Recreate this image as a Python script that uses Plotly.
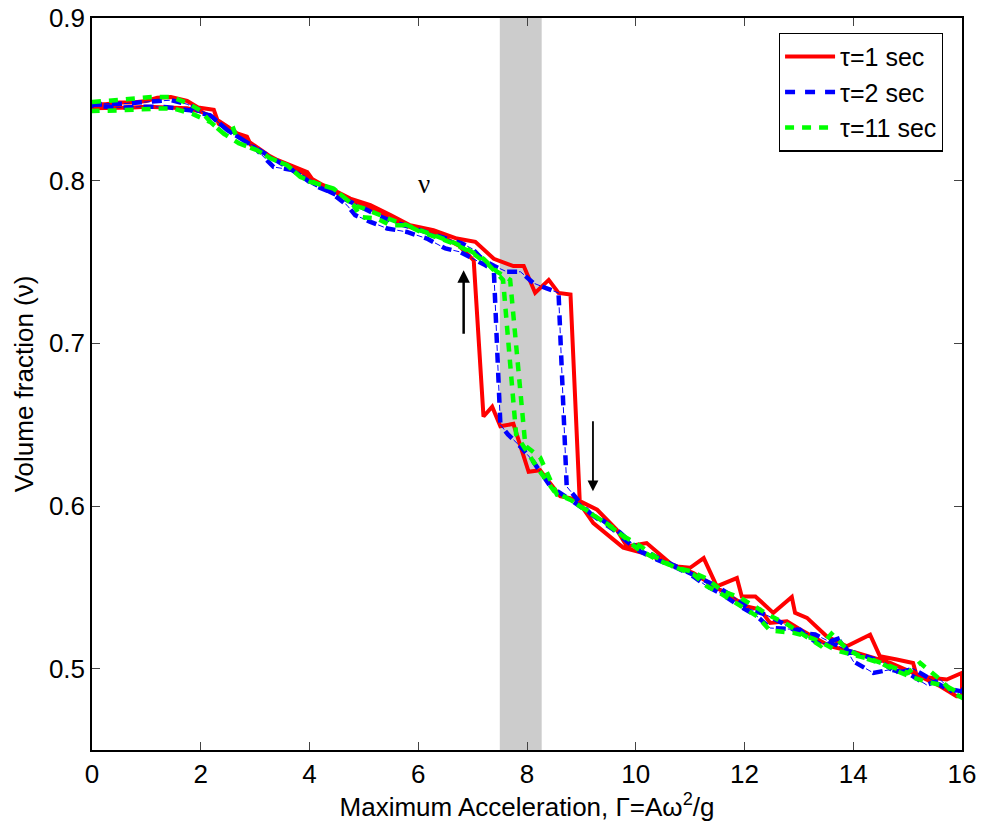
import plotly.graph_objects as go

# ---------------- data ----------------
# tau = 1 sec : increasing-Gamma sweep, then decreasing-Gamma sweep
red_up_x = [0, 0.25, 0.5, 0.75, 1.0, 1.2, 1.45, 1.75, 1.95, 2.24, 2.33, 2.67, 2.85, 2.92, 3.28, 3.65,
            3.96, 4.07, 4.39, 4.75, 5.12, 5.49, 5.85, 6.28, 6.71, 7.05, 7.39, 7.75, 7.94, 8.15, 8.40,
            8.58, 8.80, 8.97, 9.29, 9.65, 9.84, 10.2, 10.45, 10.7, 11.0, 11.25, 11.49, 11.86, 11.95,
            12.2, 12.53, 12.87, 12.93, 13.15, 13.51, 13.88, 14.31, 14.49, 14.8, 15.1, 15.17, 15.45,
            15.72, 16.0]
red_up_y = [0.847, 0.847, 0.848, 0.848, 0.849, 0.851, 0.8514, 0.849, 0.845, 0.8436, 0.835, 0.829,
            0.827, 0.822, 0.8145, 0.8095, 0.8053, 0.800, 0.7952, 0.789, 0.785, 0.7788, 0.7726,
            0.7696, 0.7644, 0.7624, 0.752, 0.7475, 0.7475, 0.731, 0.739, 0.731, 0.730, 0.603,
            0.5977, 0.5854, 0.5751, 0.5772, 0.570, 0.5629, 0.562, 0.568, 0.5506, 0.5557, 0.5444,
            0.5444, 0.5343, 0.544, 0.5343, 0.5312, 0.5199, 0.5138, 0.5209, 0.5076, 0.5056, 0.5035,
            0.4953, 0.4945, 0.4933, 0.4974]
red_dn_x = [16.0, 15.9, 15.6, 15.1, 14.68, 14.07, 13.57, 13.0, 12.78, 12.47, 12.29, 12.04, 11.55,
            11.06, 10.45, 10.14, 9.77, 9.22, 8.92, 8.61, 8.24, 8.03, 7.75, 7.51, 7.36, 7.2, 7.02,
            6.75, 6.5, 6.25, 6.0, 5.75, 5.5, 5.25, 5.0, 4.75, 4.5, 4.25, 4.0, 3.75, 3.5, 3.25, 3.0,
            2.75, 2.5, 2.25, 2.0, 1.75, 1.5, 1.25, 1.0, 0.75, 0.5, 0.25, 0.0]
red_dn_y = [0.483, 0.483, 0.4892, 0.4974, 0.5035, 0.5097, 0.5138, 0.5245, 0.5291, 0.5281, 0.5363,
            0.5383, 0.5486, 0.5588, 0.567, 0.5711, 0.5744, 0.5895, 0.604, 0.606, 0.622, 0.621,
            0.6505, 0.649, 0.661, 0.655, 0.751, 0.760, 0.7645, 0.768, 0.770, 0.7725, 0.7765, 0.781,
            0.7845, 0.788, 0.7925, 0.797, 0.802, 0.8075, 0.811, 0.8155, 0.8215, 0.8275, 0.833,
            0.8385, 0.8425, 0.8445, 0.845, 0.8455, 0.8455, 0.845, 0.8448, 0.8445, 0.8445]

# tau = 2 sec
blue_up_x = [0, 0.22, 0.55, 0.98, 1.2, 1.45, 1.75, 2.0, 2.18, 2.49, 2.79, 3.0, 3.34, 3.71, 4.08, 4.38,
             4.69, 5.0, 5.3, 5.6, 5.9, 6.2, 6.5, 6.8, 7.0, 7.2, 7.4, 7.63, 7.88, 8.12, 8.35, 8.58,
             8.73, 9.0, 9.16, 9.4, 9.7, 10.0, 10.3, 10.6, 10.9, 11.2, 11.5, 11.8, 12.1, 12.4, 12.7,
             13.0, 13.3, 13.6, 13.9, 14.2, 14.5, 14.8, 15.1, 15.4, 15.7, 16.0]
blue_up_y = [0.8465, 0.8473, 0.8473, 0.8483, 0.849, 0.8495, 0.847, 0.843, 0.840, 0.831, 0.8248,
             0.821, 0.814, 0.8064, 0.7982, 0.7931, 0.788, 0.7835, 0.778, 0.774, 0.771, 0.768,
             0.7645, 0.7615, 0.758, 0.751, 0.7475, 0.744, 0.744, 0.737, 0.734, 0.731, 0.612, 0.601,
             0.5956, 0.591, 0.584, 0.575, 0.570, 0.565, 0.5605, 0.555, 0.5505, 0.544, 0.5365, 0.533,
             0.528, 0.522, 0.521, 0.516, 0.511, 0.508, 0.5045, 0.497, 0.500, 0.494, 0.488, 0.486]
blue_dn_x = [16.0, 15.84, 15.6, 15.35, 15.0, 14.68, 14.37, 14.0, 13.76, 13.4, 13.15, 13.02, 12.47,
             12.23, 11.92, 11.55, 11.31, 11.06, 10.76, 10.39, 10.02, 9.59, 9.16, 8.8, 8.43, 8.1,
             7.88, 7.65, 7.51, 7.39, 7.23, 6.77, 6.5, 6.16, 5.79, 5.43, 5.12, 4.84, 4.69, 4.38, 4.08,
             3.71, 3.34, 3.0, 2.79, 2.49, 2.18, 1.81, 1.38, 0.98, 0.55, 0.22, 0.0]
blue_dn_y = [0.487, 0.4851, 0.4933, 0.490, 0.4974, 0.4994, 0.4974, 0.5045, 0.5189, 0.5148, 0.5199,
             0.524, 0.525, 0.5322, 0.5383, 0.5465, 0.5506, 0.5567, 0.5619, 0.567, 0.5731, 0.5854,
             0.5956, 0.6038, 0.612, 0.628, 0.6365, 0.644, 0.650, 0.745, 0.7481, 0.7562, 0.7583,
             0.7644, 0.7685, 0.7706, 0.7747, 0.7788, 0.7849, 0.7931, 0.7972, 0.8064, 0.8084, 0.820,
             0.8248, 0.831, 0.840, 0.8432, 0.8452, 0.8455, 0.845, 0.8455, 0.846]

# tau = 11 sec
green_up_x = [0, 0.43, 0.77, 1.1, 1.47, 1.78, 2.0, 2.18, 2.42, 2.6, 2.7, 3.04, 3.28, 3.59, 3.83, 4.14,
              4.44, 4.81, 5.0, 5.24, 5.5, 5.79, 6.04, 6.41, 6.65, 6.9, 7.2, 7.45, 7.69, 7.97, 8.24,
              8.55, 8.8, 9.16, 9.5, 9.8, 10.1, 10.4, 10.7, 11.0, 11.3, 11.6, 11.9, 12.2, 12.5, 12.8,
              13.1, 13.4, 13.6, 13.9, 14.2, 14.5, 14.8, 15.1, 15.4, 15.7, 16.0]
green_up_y = [0.8483, 0.8494, 0.8504, 0.8514, 0.8514, 0.8473, 0.843, 0.836, 0.829, 0.832, 0.823,
              0.8187, 0.8138, 0.8095, 0.8023, 0.7982, 0.7952, 0.7849, 0.783, 0.7795, 0.776, 0.7726,
              0.7695, 0.7654, 0.762, 0.758, 0.752, 0.744, 0.739, 0.637, 0.630, 0.607, 0.6038, 0.596,
              0.588, 0.581, 0.575, 0.568, 0.5625, 0.560, 0.5555, 0.5475, 0.544, 0.538, 0.532, 0.527,
              0.5205, 0.514, 0.5215, 0.5115, 0.5065, 0.5035, 0.4985, 0.4945, 0.4915, 0.4895, 0.484]
green_dn_x = [16.0, 15.84, 15.6, 15.23, 15.0, 14.68, 14.3, 14.0, 13.7, 13.4, 13.15, 12.9, 12.47,
              12.23, 11.92, 11.55, 11.31, 11.06, 10.76, 10.39, 10.02, 9.59, 9.16, 8.8, 8.5, 8.2,
              7.95, 7.80, 7.56, 7.3, 7.0, 6.65, 6.41, 6.04, 5.79, 5.49, 5.24, 4.94, 4.81, 4.44, 4.02,
              3.83, 3.59, 3.28, 3.04, 2.7, 2.42, 2.18, 1.84, 1.5, 1.2, 0.83, 0.49, 0.0]
green_dn_y = [0.4822, 0.4851, 0.4933, 0.5035, 0.4974, 0.5015, 0.506, 0.5085, 0.511, 0.5165, 0.5199,
              0.522, 0.5235, 0.5322, 0.539, 0.5465, 0.5506, 0.558, 0.5619, 0.567, 0.574, 0.5865,
              0.5956, 0.6038, 0.609, 0.623, 0.636, 0.644, 0.739, 0.748, 0.7555, 0.7614, 0.7644,
              0.7685, 0.7726, 0.7726, 0.7767, 0.7777, 0.7849, 0.7952, 0.7992, 0.8023, 0.8095,
              0.8138, 0.8187, 0.823, 0.829, 0.836, 0.8412, 0.8443, 0.8443, 0.8436, 0.8432, 0.8428]

series_names = ["τ=1 sec", "τ=2 sec", "τ=11 sec"]
band_x = [7.5, 8.27]                  # shaded transition region
arrow_up = [6.835, 0.705, 0.745]      # x, tail y, tip y
arrow_down = [9.213, 0.653, 0.609]
nu_label = [6.1, 0.798]
x_ticks = [0, 2, 4, 6, 8, 10, 12, 14, 16]
y_ticks = [0.5, 0.6, 0.7, 0.8, 0.9]

FONT = "Liberation Sans, Arial, sans-serif"

fig = go.Figure()

fig.add_trace(go.Scatter(x=red_up_x + red_dn_x, y=red_up_y + red_dn_y, mode="lines",
                         name=series_names[0], line=dict(color="#ff0000", width=4)))
# thin part of the dash-dot pattern
fig.add_trace(go.Scatter(x=blue_up_x + blue_dn_x, y=blue_up_y + blue_dn_y, mode="lines",
                         showlegend=False, hoverinfo="skip", legendgroup="b",
                         line=dict(color="#0000ff", width=1, dash="0px,12px,6px,2px")))
fig.add_trace(go.Scatter(x=blue_up_x + blue_dn_x, y=blue_up_y + blue_dn_y, mode="lines",
                         name=series_names[1], legendgroup="b",
                         line=dict(color="#0000ff", width=4.5, dash="10px,10px")))
fig.add_trace(go.Scatter(x=green_up_x + green_dn_x, y=green_up_y + green_dn_y, mode="lines",
                         name=series_names[2],
                         line=dict(color="#00ff00", width=4.5, dash="9px,8px")))

fig.add_shape(type="rect", xref="x", yref="paper", x0=band_x[0], x1=band_x[1], y0=0, y1=1,
              fillcolor="#cccccc", line=dict(width=0), layer="below")

fig.add_annotation(x=arrow_up[0], y=arrow_up[2], ax=arrow_up[0], ay=arrow_up[1],
                   xref="x", yref="y", axref="x", ayref="y", showarrow=True, text="",
                   arrowhead=2, arrowsize=1.0, arrowwidth=2.5, arrowcolor="black")
fig.add_annotation(x=arrow_down[0], y=arrow_down[2], ax=arrow_down[0], ay=arrow_down[1],
                   xref="x", yref="y", axref="x", ayref="y", showarrow=True, text="",
                   arrowhead=2, arrowsize=1.2, arrowwidth=1.8, arrowcolor="black")
fig.add_annotation(x=nu_label[0], y=nu_label[1], xref="x", yref="y", text="ν", showarrow=False,
                   font=dict(family="Liberation Serif, Times New Roman, serif", size=27, color="black"))

axis_common = dict(showline=True, linecolor="black", linewidth=1.5, mirror="ticks",
                   ticks="inside", ticklen=8, tickwidth=1, tickcolor="#444",
                   showgrid=False, zeroline=False, automargin=False,
                   tickfont=dict(family=FONT, size=26, color="black"))

fig.update_xaxes(range=[0, 16], tickvals=x_ticks, ticktext=[str(t) for t in x_ticks],
                 title=dict(text="Maximum Acceleration, Γ=Aω<sup>2</sup>/g",
                            font=dict(family=FONT, size=26, color="black"), standoff=6),
                 **axis_common)
fig.update_yaxes(range=[0.45, 0.9], tickvals=y_ticks, ticktext=[f"{t:.1f}" for t in y_ticks],
                 title=dict(text="Volume fraction (ν)",
                            font=dict(family=FONT, size=26, color="black"), standoff=8),
                 **axis_common)

fig.update_layout(
    width=982, height=827,
    margin=dict(l=91.5, r=20.3, t=17.5, b=77),
    paper_bgcolor="white", plot_bgcolor="white",
    showlegend=True,
    legend=dict(x=0.978, y=0.98, xanchor="right", yanchor="top",
                bgcolor="white", bordercolor="black", borderwidth=1.2, itemwidth=50,
                font=dict(family=FONT, size=25, color="black"), tracegroupgap=0),
)

fig.write_html("out.html")
